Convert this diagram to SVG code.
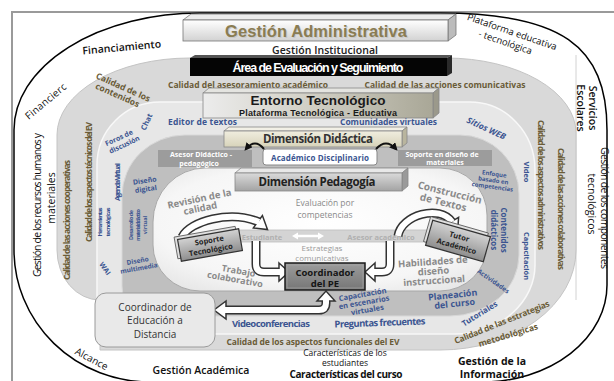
<svg xmlns="http://www.w3.org/2000/svg" width="614" height="381" viewBox="0 0 614 381">
<defs>
<linearGradient id="gAdm" x1="0" y1="0" x2="0" y2="1"><stop offset="0" stop-color="#ffffff"/><stop offset="1" stop-color="#d2d2d2"/></linearGradient>
<linearGradient id="gEnt" x1="0" y1="0" x2="1" y2="0"><stop offset="0" stop-color="#ececec"/><stop offset="0.5" stop-color="#cfcdc2"/><stop offset="1" stop-color="#a9a797"/></linearGradient>
<linearGradient id="gPed" x1="0" y1="0" x2="0" y2="1"><stop offset="0" stop-color="#dadada"/><stop offset="1" stop-color="#a3a3a3"/></linearGradient>
<linearGradient id="gBox" x1="0" y1="0" x2="0" y2="1"><stop offset="0" stop-color="#d2d2d2"/><stop offset="1" stop-color="#8e8e8e"/></linearGradient>
<linearGradient id="gPE" x1="0" y1="0" x2="0" y2="1"><stop offset="0" stop-color="#9c9c9c"/><stop offset="1" stop-color="#767676"/></linearGradient>
<linearGradient id="gDid" x1="0" y1="0" x2="0" y2="1"><stop offset="0" stop-color="#f0eddf"/><stop offset="1" stop-color="#d7d3ba"/></linearGradient>
<radialGradient id="gIn" cx="0.5" cy="0.45" r="0.7"><stop offset="0" stop-color="#ffffff"/><stop offset="0.7" stop-color="#f6f6f6"/><stop offset="1" stop-color="#e4e4e4"/></radialGradient>
<marker id="mk" viewBox="0 0 10 10" refX="7" refY="5" markerWidth="4" markerHeight="4" orient="auto"><path d="M0,0 L10,5 L0,10 Z" fill="#111"/></marker>
</defs>
<style>
text{font-family:"Open Sans","Liberation Sans",sans-serif}
.ar{font-family:"Liberation Sans",Arial,sans-serif;font-weight:bold}
.m{text-anchor:middle}
.k{fill:#111}
.q{fill:#6a5c37;font-weight:700;font-size:8.5px}
.b{fill:#3b5591;font-weight:700}
.g{fill:#8a8a8a;font-weight:700}
.ao{fill:none;stroke:#333;stroke-width:9}
.ai{fill:none;stroke:#fff;stroke-width:6}
.ah{fill:#fff;stroke:#333;stroke-width:1.5;stroke-linejoin:miter}
.bx{fill:url(#gBox);stroke:#333;stroke-width:1.2}
</style>

<rect width="614" height="381" fill="#fff"/>
<g id="frame">
<path d="M12,381 L12,12 L614,12" fill="none" stroke="#9a9a9a" stroke-width="2"/>
<path d="M14,130 A186 117 0 0 1 200,13 L440,13 C560,13 607,45 607,130 L607,285 A125 97 0 0 1 482,382 L150,382 A136 132 0 0 1 14,250 Z" fill="#fff" stroke="#000" stroke-width="1.5"/>
<line x1="576" y1="55" x2="576" y2="300" stroke="#d2d2d2" stroke-width="1"/>
</g>

<g id="bands">
<path id="bandA" d="M57,135 A133 77 0 0 1 190,58 L446,58 A130 75 0 0 1 576,133 L576,250 A136 100 0 0 1 440,350 L100,350 L100,300 A43 50 0 0 1 57,250 Z" fill="#d9d9d9" stroke="#c4c4c4"/>
<path id="bandB" d="M97,165 A63 63 0 0 1 160,102 L470,102 A65 68 0 0 1 535,170 L535,265 A80 69 0 0 1 455,334 L120,334 A23 30 0 0 1 97,304 Z" fill="#e7e7e7" stroke="#f8f8f8" stroke-width="1.5"/>
<path id="bandC" d="M122,196 A63 61 0 0 1 185,135 L460,135 A59 59 0 0 1 519,194 L519,255 A69 61 0 0 1 450,316 L150,316 A28 30 0 0 1 122,286 Z" fill="#bfbfbf" stroke="#d8d8d8"/>
<path id="inner" d="M153,222 A52 54 0 0 1 205,168 L440,168 A47 47 0 0 1 487,215 L487,245 A47 46 0 0 1 440,291 L200,291 A47 46 0 0 1 153,245 Z" fill="url(#gIn)" stroke="#a8a8a8"/>
</g>

<g id="outer-labels">
<text class="k" transform="translate(122,51) rotate(-5)" text-anchor="middle" font-size="10.5" font-weight="600" textLength="79">Financiamiento</text>
<text class="k" transform="translate(48,104) rotate(-40)" text-anchor="middle" font-size="10" textLength="50">Financierc</text>
<text class="k m" transform="translate(511,35) rotate(19)" font-size="9.5"><tspan x="0" y="0">Plataforma educativa</tspan><tspan x="-3" y="12">- tecnológica</tspan></text>
<text class="k m" transform="translate(589,108) rotate(90)" font-size="10.5" font-weight="600"><tspan x="0" y="0">Servicios</tspan><tspan x="0" y="12.5">Escolares</tspan></text>
<text class="k m" transform="translate(601,208) rotate(90)" font-size="10.5"><tspan x="0" y="0" textLength="122">Gestión de los componentes</tspan><tspan x="-4" y="13.5">tecnológicos</tspan></text>
<text class="k m" transform="translate(41,205) rotate(-90)" font-size="10.5"><tspan x="0" y="0" textLength="144">Gestión de los recursos humanos y</tspan><tspan x="7" y="14">materiales</tspan></text>
<text class="k m" transform="translate(90,362) rotate(28)" font-size="10">Alcance</text>
<text class="k m" x="201" y="374" font-size="10.5" font-weight="600">Gestión Académica</text>
<text class="k m" font-size="8.5"><tspan x="345" y="356">Características de los</tspan><tspan x="345" y="365.5">estudiantes</tspan></text>
<text class="k m" x="346" y="377.5" font-size="10" font-weight="700" textLength="113">Características del curso</text>
<text class="k m" font-size="10.5" font-weight="700"><tspan x="492" y="365">Gestión de la</tspan><tspan x="492" y="378">Información</tspan></text>
</g>

<g id="quality-labels">
<text class="q m" x="248" y="88" textLength="160">Calidad del asesoramiento académico</text>
<text class="q m" x="445" y="88" textLength="161">Calidad de las acciones comunicativas</text>
<text class="q m" transform="translate(122,90) rotate(24)" font-size="8"><tspan x="0" y="0">Calidad de los</tspan><tspan x="-2" y="9.5">contenidos</tspan></text>
<text class="q m" transform="translate(70,220) rotate(-90)" font-size="8" textLength="120">Calidad de las acciones cooperativas</text>
<text class="q m" transform="translate(92,182) rotate(-90)" font-size="8" textLength="120">Calidad de los aspectos técnicos del EV</text>
<text class="q m" transform="translate(538,185) rotate(90)" font-size="8" textLength="130">Calidad de los aspectos administrativos</text>
<text class="q m" transform="translate(558,209) rotate(90)" font-size="8" textLength="122">Calidad de las acciones colaborativas</text>
<text class="q m" x="313" y="345" font-size="9" textLength="173">Calidad de los aspectos funcionales del EV</text>
<text class="q m" transform="translate(503,325) rotate(-22)" textLength="102">Calidad de las estrategias</text>
<text class="q m" transform="translate(509,338) rotate(-17)">metodológicas</text>
</g>

<g id="tool-labels">
<text class="b" x="168" y="125" font-size="8.5" textLength="69">Editor de textos</text>
<text class="b" x="340" y="125" font-size="8.5" textLength="97">Comunidades virtuales</text>
<text class="b m" transform="translate(149,123) rotate(-65)" font-size="7.5">Chat</text>
<text class="b m" transform="translate(120,140) rotate(-25)" font-size="7"><tspan x="0" y="0">Foros de</tspan><tspan x="2" y="8.5">discusión</tspan></text>
<text class="b m" transform="translate(120,182) rotate(-90)" font-size="7.5" textLength="38">Agenda Virtual</text>
<text class="b m" transform="translate(102,222) rotate(-90)" font-size="6"><tspan x="0" y="0" textLength="29">Herramientas</tspan><tspan x="0" y="8" textLength="29">tecnológicas</tspan></text>
<text class="b m" transform="translate(133,225) rotate(-90)" font-size="5.5"><tspan x="0" y="0" textLength="30">Desarrollo de</tspan><tspan x="0" y="7" textLength="32">material didáctico</tspan><tspan x="0" y="14">virtual</tspan></text>
<text class="b m" transform="translate(145,183) rotate(-8)" font-size="7"><tspan x="0" y="0">Diseño</tspan><tspan x="0" y="8.5">digital</tspan></text>
<text class="b m" transform="translate(138,263) rotate(-10)" font-size="6.5"><tspan x="0" y="0">Diseño</tspan><tspan x="0" y="7.5">multimedia</tspan></text>
<text class="b m" transform="translate(103,270) rotate(55)" font-size="7">WAI</text>
<text class="b m" transform="translate(485,131) rotate(25)" font-size="8.5" font-style="italic">Sitios WEB</text>
<text class="b m" transform="translate(524,172) rotate(90)" font-size="7.5">Video</text>
<text class="b m" transform="translate(494,176) rotate(8)" font-size="6"><tspan x="0" y="0">Enfoque</tspan><tspan x="0" y="6.5">basado en</tspan><tspan x="0" y="13">competencias</tspan></text>
<text class="b m" transform="translate(501,230) rotate(90)" font-size="8"><tspan x="0" y="0">Contenidos</tspan><tspan x="0" y="10">didácticos</tspan></text>
<text class="b m" transform="translate(524,256) rotate(90)" font-size="7.5">Capacitación</text>
<text class="b m" transform="translate(492,283) rotate(35)" font-size="6.5">Actividades</text>
<text class="b m" transform="translate(453,298) rotate(-6)" font-size="9"><tspan x="0" y="0">Planeación</tspan><tspan x="1" y="9">del curso</tspan></text>
<text class="b m" transform="translate(363,297) rotate(-10)" font-size="7.5"><tspan x="0" y="0">Capacitación</tspan><tspan x="0" y="8">en escenarios</tspan><tspan x="2" y="16">virtuales</tspan></text>
<text class="b m" x="271" y="327" font-size="9.5" textLength="78">Videoconferencias</text>
<text class="b m" transform="translate(380,326) rotate(-2)" font-size="9.5" textLength="91">Preguntas frecuentes</text>
<text class="b m" transform="translate(481,316) rotate(-32)" font-size="8">Tutoriales</text>
</g>

<g id="inner-labels">
<text class="g m" transform="translate(200,202) rotate(-12)" font-size="9.5"><tspan x="0" y="0">Revisión de la</tspan><tspan x="-1" y="9.5">calidad</tspan></text>
<text class="m" fill="#8a8a8a" font-size="8.5"><tspan x="325" y="206">Evaluación por</tspan><tspan x="325" y="217.5">competencias</tspan></text>
<text class="g m" transform="translate(449,196) rotate(14)" font-size="10"><tspan x="0" y="0">Construcción</tspan><tspan x="-4" y="11">de Textos</tspan></text>
<text class="m" fill="#9a9a9a" font-size="8"><tspan x="322" y="251">Estrategias</tspan><tspan x="322" y="260.5">comunicativas</tspan></text>
<text class="g m" transform="translate(238,274) rotate(10)" font-size="9"><tspan x="0" y="0">Trabajo</tspan><tspan x="-2" y="9">colaborativo</tspan></text>
<text class="g m" transform="translate(433,265) rotate(-4)" font-size="9.5"><tspan x="0" y="0">Habilidades de</tspan><tspan x="0" y="9.5">diseño</tspan><tspan x="0" y="19">instruccional</tspan></text>
</g>

<g id="gestion-administrativa">
<path d="M183,20 L191,14 L456,14 L448,20 Z" fill="#ececec" stroke="#777" stroke-width="0.8"/>
<path d="M448,20 L456,14 L456,35 L448,41 Z" fill="#bcbcbc" stroke="#777" stroke-width="0.8"/>
<rect x="183" y="20" width="265" height="21" fill="url(#gAdm)" stroke="#777" stroke-width="0.8"/>
<text class="ar m" x="317" y="38" font-size="16.5" fill="#c8c8c8" textLength="182">Gestión Administrativa</text>
<text class="ar m" x="316" y="37" font-size="16.5" fill="#8a7c52" textLength="182">Gestión Administrativa</text>
</g>
<g id="gestion-institucional">
<text class="m" x="325" y="54" font-size="10.5" font-weight="600" fill="#222" textLength="106">Gestión Institucional</text>
</g>
<g id="area-evaluacion">
<path d="M190,58 L195,55 L452,55 L447,58 Z" fill="#555"/>
<path d="M447,58 L452,55 L452,73 L447,76 Z" fill="#2a2a2a"/>
<rect x="190" y="58" width="257" height="18" fill="#050505"/>
<text class="ar m" x="318" y="72" font-size="12.5" fill="#fff" textLength="171">Área de Evaluación y Seguimiento</text>
</g>
<g id="entorno-tecnologico">
<path d="M203,93 L209,88 L439,88 L433,93 Z" fill="#e4e4e0" stroke="#888" stroke-width="0.8"/>
<path d="M433,93 L439,88 L439,113 L433,118 Z" fill="#9b998b" stroke="#888" stroke-width="0.8"/>
<rect x="203" y="93" width="230" height="25" fill="url(#gEnt)" stroke="#888" stroke-width="0.8"/>
<text class="ar m" x="318" y="105" font-size="13.5" fill="#1a1a1a" textLength="135">Entorno Tecnológico</text>
<text class="ar m" x="318" y="115.5" font-size="9" fill="#1a1a1a" textLength="158">Plataforma Tecnológica - Educativa</text>
</g>
<g id="dimension-didactica">
<path d="M224,131 L229,127 L407,127 L402,131 Z" fill="#f2f0e6" stroke="#888" stroke-width="0.8"/>
<path d="M402,131 L407,127 L407,143 L402,147 Z" fill="#b9b59e" stroke="#888" stroke-width="0.8"/>
<rect x="224" y="131" width="178" height="16" fill="url(#gDid)" stroke="#888" stroke-width="0.8"/>
<text class="m" x="318" y="143" font-size="11.5" font-weight="700" fill="#333" textLength="110">Dimensión Didáctica</text>
</g>
<g id="asesor-didactico">
<rect x="158" y="150" width="94" height="17" fill="#9c9c9c"/>
<text class="m" fill="#fff" font-size="7" font-weight="700"><tspan x="201" y="157">Asesor Didáctico -</tspan><tspan x="199" y="165.5">pedagógico</tspan></text>
</g>
<g id="academico-disciplinario">
<rect x="263" y="149" width="114" height="16" rx="3" fill="#fff" stroke="#888"/>
<text class="b m" x="320" y="160.5" font-size="8" textLength="98">Académico Disciplinario</text>
</g>
<g id="soporte-diseno">
<rect x="398" y="150" width="94" height="16" fill="#9c9c9c"/>
<text class="m" fill="#fff" font-size="7" font-weight="700"><tspan x="442" y="157">Soporte en diseño de</tspan><tspan x="445" y="165">materiales</tspan></text>
</g>
<g id="dimension-pedagogia">
<path d="M235,173 L241,168 L408,168 L402,173 Z" fill="#e8e8e8" stroke="#888" stroke-width="0.8"/>
<path d="M402,173 L408,168 L408,186 L402,191 Z" fill="#9a9a9a" stroke="#888" stroke-width="0.8"/>
<rect x="235" y="173" width="167" height="18" fill="url(#gPed)" stroke="#888" stroke-width="0.8"/>
<text class="m" x="317" y="186" font-size="11.5" font-weight="700" fill="#222" textLength="117">Dimensión Pedagogía</text>
</g>
<g id="estudiante-asesor">
<rect x="232" y="230" width="208" height="12" fill="#d4d4d4" stroke="#bdbdbd" stroke-width="0.8"/>
<text class="m" x="262" y="239.5" font-size="7.5" font-weight="700" fill="#b0b0b0">Estudiante</text>
<text class="m" x="381" y="239.5" font-size="7.5" font-weight="700" fill="#b0b0b0">Asesor académico</text>
</g>

<g id="connectors">
<line x1="297" y1="236" x2="319" y2="236" stroke="#fff" stroke-width="2.5"/>
<polygon points="292,236 298,232.5 298,239.5" fill="#fff"/>
<polygon points="324,236 318,232.5 318,239.5" fill="#fff"/>
<path d="M264,149 Q255,138 246,149" fill="none" stroke="#111" stroke-width="2" marker-end="url(#mk)"/>
<path d="M376,149 Q386,138 396,149" fill="none" stroke="#111" stroke-width="2" marker-end="url(#mk)"/>
<path class="ao" d="M182,237 C190,221 230,210 259,222"/>
<polygon class="ah" points="253.4,227.9 267.5,229.5 262.4,215.6"/>
<path class="ai" d="M182,237 C190,221 230,210 259,222"/>
<path class="ao" d="M398,236 C401,215 440,204 452,222"/>
<polygon class="ah" points="444.6,225.6 457.6,231.6 458.6,217.4"/>
<path class="ai" d="M398,236 C401,215 440,204 452,222"/>
<path class="ao" d="M256,241 L256,264 Q256,272 264,272 L281,272"/>
<polygon class="ah" points="279,263 289,272 279,281"/>
<path class="ai" d="M256,241 L256,264 Q256,272 264,272 L281,272"/>
<path class="ao" d="M390,241 L390,264 Q390,272 382,272 L373,272"/>
<polygon class="ah" points="375,263 365,272 375,281"/>
<path class="ai" d="M390,241 L390,264 Q390,272 382,272 L373,272"/>
<path class="ao" d="M326,299 L326,303 Q326,310 319,310 L224,310"/>
<polygon class="ah" points="317,301 326,291 335,301"/>
<polygon class="ah" points="226,301 214,310 226,319"/>
<path class="ai" d="M326,299 L326,303 Q326,310 319,310 L224,310"/>
</g>

<g id="soporte-tecnologico" transform="translate(210,245) rotate(-10)">
<rect x="-34" y="-14" width="62" height="22" fill="#e0e0e0" stroke="#555" stroke-width="0.8"/>
<rect x="-31" y="-11" width="62" height="22" class="bx"/>
<text class="m" font-size="7.5" font-weight="700" fill="#222"><tspan x="0" y="-2">Soporte</tspan><tspan x="0" y="7.5">Tecnológico</tspan></text>
</g>
<g id="tutor-academico" transform="translate(458,241) rotate(16)">
<rect x="-33" y="-16" width="60" height="26" fill="#e0e0e0" stroke="#555" stroke-width="0.8"/>
<rect x="-30" y="-13" width="60" height="26" class="bx"/>
<text class="m" font-size="7.5" font-weight="700" fill="#222"><tspan x="0" y="-2">Tutor</tspan><tspan x="0" y="8">Académico</tspan></text>
</g>
<g id="coordinador-pe">
<rect x="285" y="263" width="80" height="27" fill="url(#gPE)" stroke="#1a1a1a" stroke-width="1.5"/>
<rect x="287" y="265" width="76" height="23" fill="none" stroke="#aaa" stroke-width="0.6"/>
<text class="m" font-size="9.5" font-weight="700" fill="#151515"><tspan x="325" y="275.5">Coordinador</tspan><tspan x="325" y="287">del PE</tspan></text>
</g>
<g id="coordinador-ed">
<rect x="95" y="293" width="120" height="54" rx="11" fill="#e9e9e9" stroke="#9a9a9a"/>
<text class="m" font-size="10" fill="#333"><tspan x="155" y="310.5">Coordinador de</tspan><tspan x="155" y="324">Educación a</tspan><tspan x="155" y="337.5">Distancia</tspan></text>
</g>
</svg>
